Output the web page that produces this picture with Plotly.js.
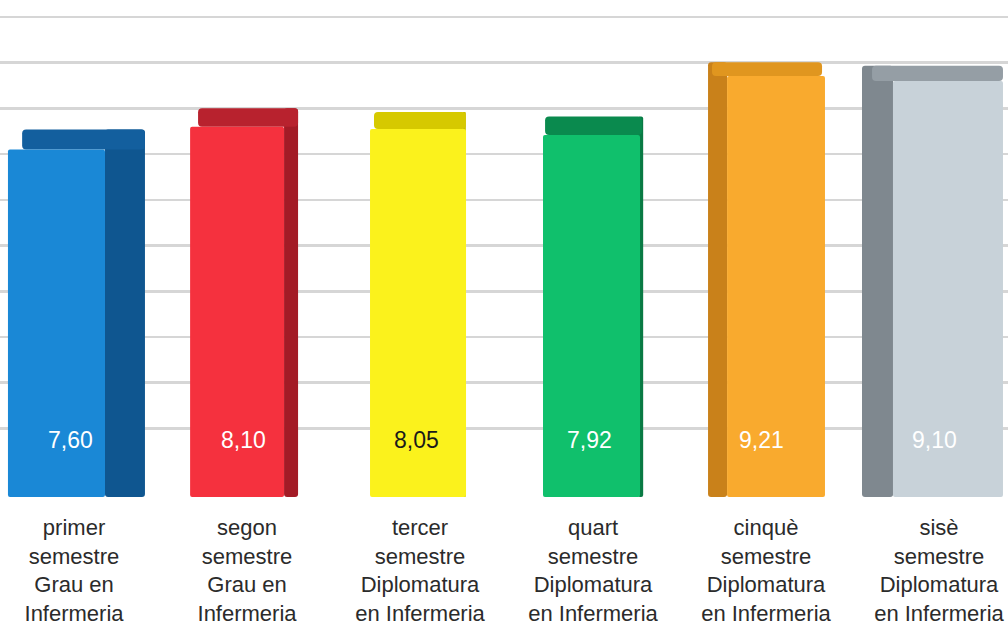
<!DOCTYPE html>
<html>
<head>
<meta charset="utf-8">
<script src="https://cdn.plot.ly/plotly-3.0.1.min.js"></script>
<style>
  html, body { margin: 0; padding: 0; background: #ffffff; }
  #chart { width: 1008px; height: 626px; }
</style>
</head>
<body>
<div id="chart"></div>
<script>
// ---- data ----
var categories = [
  'primer semestre Grau en Infermeria',
  'segon semestre Grau en Infermeria',
  'tercer semestre Diplomatura en Infermeria',
  'quart semestre Diplomatura en Infermeria',
  'cinquè semestre Diplomatura en Infermeria',
  'sisè semestre Diplomatura en Infermeria'
];
var tickLabels = [
  'primer<br>semestre<br>Grau en<br>Infermeria',
  'segon<br>semestre<br>Grau en<br>Infermeria',
  'tercer<br>semestre<br>Diplomatura<br>en Infermeria',
  'quart<br>semestre<br>Diplomatura<br>en Infermeria',
  'cinquè<br>semestre<br>Diplomatura<br>en Infermeria',
  'sisè<br>semestre<br>Diplomatura<br>en Infermeria'
];
var values = [7.60, 8.10, 8.05, 7.92, 9.21, 9.10];

// ---- styles (pseudo 3D faces) ----
var frontColors = ['#1a88d6', '#f5313e', '#fbf21c', '#10c06c', '#f9aa2e', '#c8d2d9'];
var topColors   = ['#135f9e', '#b8222e', '#d6c900', '#0a8a4e', '#e0961f', '#959ea5'];
var sideColors  = ['#0f5690', '#a31b26', '#c9bc00', '#097a44', '#c9811a', '#7f888f'];
var labelColors = ['#ffffff', '#ffffff', '#1a1a1a', '#ffffff', '#ffffff', '#ffffff'];
var frontOffset = [-0.382, -0.329, -0.289, -0.289, -0.225, -0.266];
var frontWidth  = [0.561, 0.543, 0.555, 0.561, 0.566, 0.636];
var topOffset   = [-0.30, -0.283, -0.266, -0.277, -0.312, -0.387];
var topWidth    = [0.71, 0.578, 0.53, 0.56, 0.636, 0.757];
var sideOffset  = [0.179, 0.214, 0.245, 0.26, -0.335, -0.445];
var sideWidth   = [0.231, 0.081, 0.02, 0.03, 0.11, 0.18];
var depth       = [0.44, 0.40, 0.37, 0.40, 0.30, 0.33];
var gridValues  = [1.5, 2.5, 3.5, 4.5, 5.5, 6.5, 7.5, 8.5, 9.5, 10.5];

var xs = categories.map(function (_, i) { return i; });
var labelText = values.map(function (v) { return v.toFixed(2).replace('.', ','); });

var sideFace = {
  type: 'bar', x: xs, y: values.map(function (v, i) { return v + depth[i]; }),
  base: 0, offset: sideOffset, width: sideWidth,
  marker: { color: sideColors, line: { width: 0 }, cornerradius: 3 },
  hoverinfo: 'skip', showlegend: false
};
var topFace = {
  type: 'bar', x: xs, y: depth, base: values,
  offset: topOffset, width: topWidth,
  marker: { color: topColors, line: { width: 0 }, cornerradius: 4 },
  hoverinfo: 'skip', showlegend: false
};
var frontFace = {
  type: 'bar', x: xs, y: values, base: 0,
  offset: frontOffset, width: frontWidth,
  marker: { color: frontColors, line: { width: 0 }, cornerradius: 2 },
  customdata: categories,
  hovertemplate: '%{customdata}: %{y}<extra></extra>',
  showlegend: false
};

var annotations = xs.map(function (x, i) {
  return {
    x: x, y: 1.25, xref: 'x', yref: 'y', xshift: -4,
    text: labelText[i], showarrow: false,
    font: { family: 'Liberation Sans, Arial, sans-serif', size: 23, color: labelColors[i] }
  };
});

var layout = {
  width: 1008, height: 626,
  margin: { l: 0, r: 0, t: 0, b: 129, pad: 0 },
  paper_bgcolor: '#ffffff', plot_bgcolor: '#ffffff',
  barmode: 'overlay',
  showlegend: false,
  xaxis: {
    range: [-0.428, 5.399],
    tickmode: 'array', tickvals: xs, ticktext: tickLabels,
    showgrid: false, zeroline: false, showline: false, ticks: '',
    ticklabelstandoff: 15,
    tickfont: { family: 'Liberation Sans, Arial, sans-serif', size: 22, color: '#2b2b2b' },
    fixedrange: true
  },
  yaxis: {
    range: [0, 10.87],
    tickmode: 'array', tickvals: gridValues,
    showticklabels: false, ticks: '',
    showgrid: true, gridcolor: '#d6d6d6', gridwidth: 2.5,
    zeroline: false, showline: false,
    fixedrange: true
  },
  annotations: annotations
};

Plotly.newPlot('chart', [sideFace, topFace, frontFace], layout, { displayModeBar: false, staticPlot: true });
</script>
</body>
</html>
